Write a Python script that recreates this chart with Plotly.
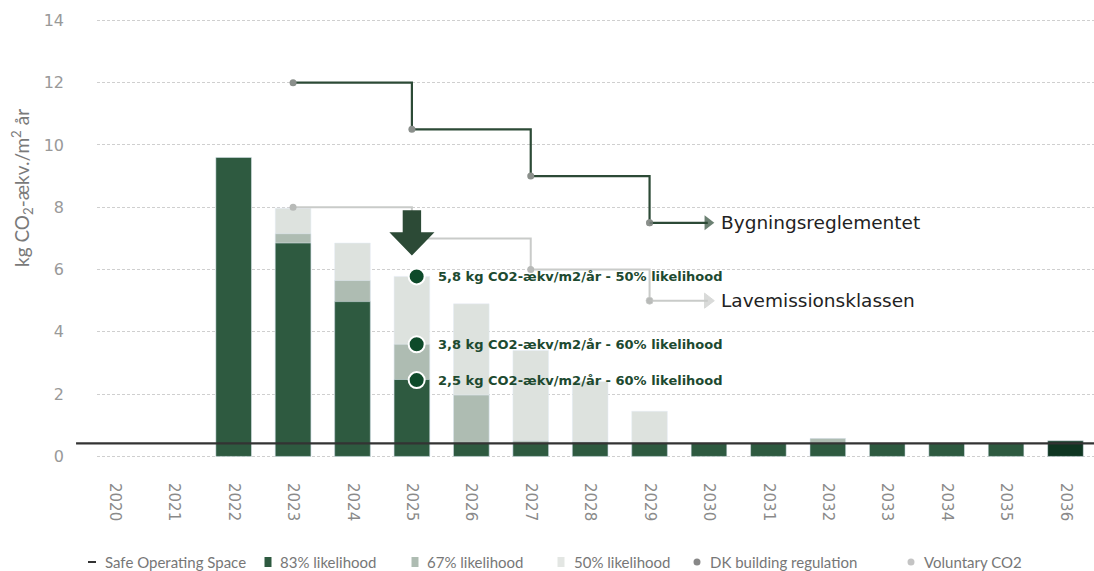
import plotly.graph_objects as go

years = list(range(2020, 2037))
# cumulative stack tops (kg CO2-ækv./m² år)
lik83 = [None, None, 9.6, 6.85, 4.97, 2.47, 0.45, 0.45, 0.45, 0.42, 0.42, 0.42, 0.42, 0.42, 0.42, 0.42, 0.5]
lik67 = [None, None, None, 7.15, 5.65, 3.6, 1.97, 0.5, 0.47, 0.44, None, None, 0.58, None, None, None, None]
lik50 = [None, None, None, 7.97, 6.85, 5.78, 4.9, 3.4, 2.4, 1.45, None, None, None, None, None, None, None]
bar83_colors = ["#2e5a40"] * 16 + ["#0f3622"]

dk_years = [2023, 2025, 2027, 2029]
dk_values = [12, 10.5, 9, 7.5]
vol_years = [2023, 2025, 2027, 2029]
vol_values = [8, 7, 6, 5]
safe_level = 0.42

note_year = 2025
note_values = [5.78, 3.6, 2.45]
note_texts = ["5,8 kg CO2-ækv/m2/år - 50% likelihood",
              "3,8 kg CO2-ækv/m2/år - 60% likelihood",
              "2,5 kg CO2-ækv/m2/år - 60% likelihood"]

legend_names = ["Safe Operating Space", "83% likelihood", "67% likelihood",
                "50% likelihood", "DK building regulation", "Voluntary CO2"]

DARK = "#2c4a36"
C83, C67, C50 = "#2e5a40", "#aebcb2", "#dde2de"
FONT = "Lato, Open Sans, sans-serif"
L, R, T, B = 97, 0, 11, 99
W, H = 1094, 571
PW, PH = W - L - R, H - T - B

fig = go.Figure()
fig.add_trace(go.Bar(x=years, y=lik50, marker_color=C50, width=0.6, name=legend_names[3], showlegend=False))
fig.add_trace(go.Bar(x=years, y=lik67, marker_color=C67, width=0.6, name=legend_names[2], showlegend=False))
fig.add_trace(go.Bar(x=years, y=lik83, marker_color=bar83_colors, width=0.6, name=legend_names[1], showlegend=False))

# step lines
fig.add_trace(go.Scatter(x=vol_years, y=vol_values, mode="lines+markers", line_shape="hv",
                         line=dict(color="#c9cbc9", width=2),
                         marker=dict(color="#b8bab8", size=7), showlegend=False))
fig.add_trace(go.Scatter(x=dk_years, y=dk_values, mode="lines+markers", line_shape="hv",
                         line=dict(color=DARK, width=2.2),
                         marker=dict(color="#8a8f8b", size=7), showlegend=False))
# arrow tails to the labels
fig.add_trace(go.Scatter(x=[vol_years[-1], vol_years[-1] + 0.98], y=[vol_values[-1]] * 2,
                         mode="lines+markers", line=dict(color="#c9cbc9", width=2),
                         marker=dict(symbol=["circle", "triangle-right"], size=[7, 13], color=["#b8bab8", "#c9cbc9"]),
                         showlegend=False))
fig.add_trace(go.Scatter(x=[dk_years[-1], dk_years[-1] + 0.98], y=[dk_values[-1]] * 2,
                         mode="lines+markers", line=dict(color=DARK, width=2.2),
                         marker=dict(symbol=["circle", "triangle-right"], size=[7, 13], color=["#8a8f8b", DARK],
                                     line=dict(width=0)),
                         showlegend=False))

# note markers
fig.add_trace(go.Scatter(x=[note_year + 0.08] * 3, y=note_values, mode="markers",
                         marker=dict(color="#0e4a2a", size=16, line=dict(color="white", width=2)),
                         showlegend=False))
for v, t in zip(note_values, note_texts):
    fig.add_annotation(x=note_year + 0.08, y=v, text=f"<b>{t}</b>", showarrow=False,
                       xanchor="left", xshift=19,
                       font=dict(family="DejaVu Sans, sans-serif", size=13, color="#1d4a30"))

fig.add_annotation(x=dk_years[-1] + 1, y=dk_values[-1], text="Bygningsreglementet",
                   showarrow=False, xanchor="left", xshift=10,
                   font=dict(family="DejaVu Sans, sans-serif", size=18.5, color="#222"))
fig.add_annotation(x=vol_years[-1] + 1, y=vol_values[-1], text="Lavemissionsklassen",
                   showarrow=False, xanchor="left", xshift=10,
                   font=dict(family="DejaVu Sans, sans-serif", size=18.5, color="#222"))

# big down arrow at 2025
sw, hw = 0.155, 0.38
y_top, y_mid, y_tip = 7.9, 7.2, 6.45
cx = note_year
path = (f"M {cx-sw},{y_top} L {cx+sw},{y_top} L {cx+sw},{y_mid} L {cx+hw},{y_mid} "
        f"L {cx},{y_tip} L {cx-hw},{y_mid} L {cx-sw},{y_mid} Z")
fig.add_shape(type="path", path=path, fillcolor=DARK, line=dict(width=0), layer="above")

# safe operating space line
fig.add_shape(type="line", xref="paper", x0=-0.021, x1=1, yref="y", y0=safe_level, y1=safe_level,
              line=dict(color="#333", width=2.2), layer="above")

# y-axis title
fig.add_annotation(xref="paper", yref="paper", x=(22 - L) / PW, y=(T + PH - 188) / PH,
                   xanchor="center", yanchor="middle",
                   text="kg CO<sub>2</sub>-ækv./m<sup>2</sup> år", textangle=-90, showarrow=False,
                   font=dict(family=FONT, size=19, color="#7a7a7a"))

# manual legend (pixel positions)
def px(xp):
    return (xp - L) / PW
ly = (T + PH - 562) / PH
sym_x = [92, 268, 415, 561, 697, 911]
txt_x = [103, 278, 425, 572, 708, 922]
sym = [("line", "#333"), ("rect", C83), ("rect", C67), ("rect", "#e3e6e3"),
       ("circle", "#888"), ("circle", "#c4c4c4")]
for (kind, col), sx, tx, name in zip(sym, sym_x, txt_x, legend_names):
    if kind == "line":
        fig.add_shape(type="line", xref="paper", yref="paper", xsizemode="pixel", ysizemode="pixel",
                      xanchor=px(sx), yanchor=ly, x0=-4, x1=4, y0=0, y1=0,
                      line=dict(color=col, width=2))
    elif kind == "rect":
        fig.add_shape(type="rect", xref="paper", yref="paper", xsizemode="pixel", ysizemode="pixel",
                      xanchor=px(sx), yanchor=ly, x0=-3.5, x1=3.5, y0=-5, y1=5,
                      fillcolor=col, line=dict(width=0))
    else:
        fig.add_shape(type="circle", xref="paper", yref="paper", xsizemode="pixel", ysizemode="pixel",
                      xanchor=px(sx), yanchor=ly, x0=-3.5, x1=3.5, y0=-3.5, y1=3.5,
                      fillcolor=col, line=dict(width=0))
    fig.add_annotation(xref="paper", yref="paper", x=px(tx), y=ly, text=name, showarrow=False,
                       xanchor="left", yanchor="middle",
                       font=dict(family=FONT, size=15, color="#777"))

fig.update_layout(
    width=W, height=H, barmode="overlay", showlegend=False,
    margin=dict(l=L, r=R, t=T, b=B, autoexpand=False),
    paper_bgcolor="white", plot_bgcolor="white",
    font=dict(family=FONT, color="#888"),
    xaxis=dict(range=[2019.7, 2036.48], tickvals=years, ticktext=[str(y) for y in years],
               tickangle=90, tickfont=dict(family="DejaVu Sans, sans-serif", size=15, color="#8a8a8a"),
               showgrid=False, zeroline=False, showline=False, ticks="", ticklabelstandoff=10,
               automargin=False),
    yaxis=dict(range=[-0.5, 14.3], tickvals=list(range(0, 15, 2)),
               tickfont=dict(family="DejaVu Sans, sans-serif", size=16, color="#999"),
               showgrid=True, gridcolor="#cfcfcf",
               griddash="3px,2px", gridwidth=1, zeroline=False, showline=False, ticks="",
               ticklabelstandoff=32, automargin=False),
)

fig.write_html("out.html", config={"displayModeBar": False},
               post_script="document.body.style.margin='0';document.body.style.overflow='hidden';")
